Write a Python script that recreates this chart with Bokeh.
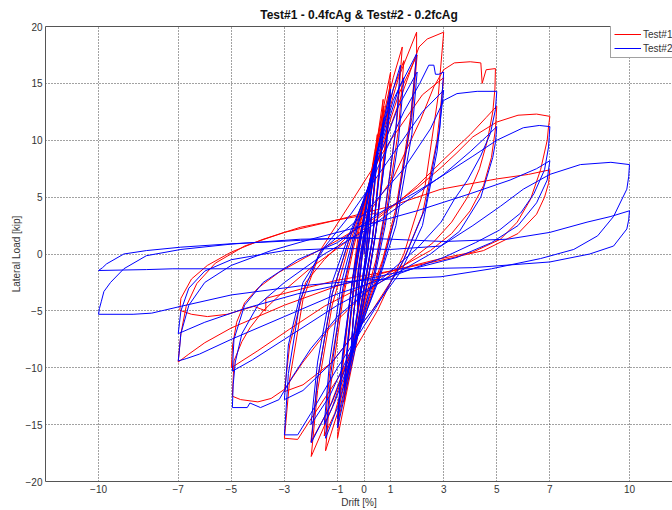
from bokeh.plotting import figure
from bokeh.models import Range1d, FixedTicker, LinearAxis
from bokeh.embed import file_html
from bokeh.resources import INLINE

title_text = "Test#1 - 0.4fcAg & Test#2 - 0.2fcAg"
x_label = "Drift [%]"
y_label = "Lateral Load [kip]"
series_names = ["Test#1", "Test#2"]
series_colors = ["#ff0000", "#0000ff"]
x_ticks = [-10, -7, -5, -3, -1, 0, 1, 3, 5, 7, 10]
y_ticks = [-20, -15, -10, -5, 0, 5, 10, 15, 20]

# ---- Test#1 (0.4 fcAg): drift [%] and lateral load [kip]
test1_drift = (
    [0, 0.12, 0.25, 0.2, 0.08, -0.05, -0.25, -0.2, -0.08, 0.1, 0.25, 0.19, 0.07, -0.1, -0.25, -0.18, -0.06]
    + [0.2, 0.5, 0.42, 0.2, 0.1, -0.15, -0.5, -0.42, -0.22, -0.12, 0.15, 0.5, 0.4, 0.18, 0.08, -0.2, -0.5, -0.4, -0.15]
    + [0.1, 0.4, 0.72, 0.62, 0.35, 0.2, -0.2, -0.75, -0.62, -0.35, -0.2, 0.2, 0.75, 0.6, 0.3, 0.15, -0.3, -0.75, -0.6, -0.3]
    + [-0.1, 0.4, 1.0, 0.85, 0.5, 0.25, -0.3, -1.0, -0.85, -0.5, -0.25, 0.3, 1.0, 0.82, 0.45, 0.2, -0.4, -1.0, -0.82, -0.45]
    + [-0.2, 0.5, 1.1, 1.44, 1.25, 0.8, 0.45, -0.3, -1.0, -1.45, -1.25, -0.8, -0.4, 0.4, 1.1, 1.5, 1.3, 0.8, 0.4, -0.4, -1.1, -1.5, -1.3, -0.8]
    + [-0.4, 0.5, 1.3, 1.98, 1.98, 1.75, 1.2, 0.7, -0.2, -1.2, -1.99, -1.75, -1.2, -0.6, 0.4, 1.3, 2.0, 1.8, 1.2, 0.6, -0.4, -1.3, -2.0, -1.75, -1.2]
    + [-0.6, 0.5, 1.5, 2.07, 2.38, 3.0, 2.8, 2.3, 1.5, 0.5, -1.0, -2.0, -2.5, -3.0, -2.8, -2.3, -1.6, -0.5, 1.0, 2.2, 3.0, 2.75, 2.2, 1.4, 0.3, -1.2, -2.3, -3.0, -2.8, -2.2]
    # 5 % cycles
    + [-1.5, 0, 1.12, 2.13, 2.63, 3.0, 3.4, 4.0, 4.4, 4.45, 4.6, 4.95]
    + [4.93, 4.85, 4.65, 4.35, 3.9, 3.3, 2.6, 1.5, 0, -1.3, -2.3, -3.0, -3.5, -4.0, -4.65, -4.96]
    + [-4.9, -4.6, -4.3, -3.8, -3.0, -2.0, -1.0, 0, 1.0, 2.0, 3.0, 4.0, 4.6, 5.0]
    + [4.95, 4.8, 4.5, 4.0, 3.3, 2.5, 1.5, 0, -1.5, -2.8, -4.0, -4.6, -5.0]
    + [-4.95, -4.8, -4.5, -4.0, -3.2]
    # 7 % cycles
    + [-2.2, -1.0, 0.5, 2.0, 2.9, 3.5, 4.1, 5.0, 5.8, 6.5, 7.0]
    + [6.95, 6.9, 6.65, 6.27, 5.77, 5.14, 4.1, 2.9, 1.0, -1.0, -3.0, -5.0, -6.0, -6.6, -7.0]
    + [-6.95, -6.9, -6.7, -6.3, -5.6, -4.5, -3.0, -1.0, 1.0, 2.9, 5.0, 6.2, 7.0]
    + [6.95, 6.8, 6.5, 5.8, 4.5, 3.0, 1.0, -1.0, -2.4, -3.7, -3.7, -4.15, -5.15, -5.9, -6.5, -6.94]
    + [-6.9, -6.5, -5.9, -5.0, -3.8, -2.4, -1.0, 0.5]
)
test1_load = (
    [0, 3, 5.5, 3.5, 0, -2.5, -5, -3, 0, 3, 5.2, 3, 0, -3, -4.8, -2.5, 0]
    + [5, 10.5, 7, 1.5, 0, -4, -9.5, -6, -1.5, 0, 4, 10, 6.5, 1, -0.5, -4.5, -9, -5.5, -0.5]
    + [2.5, 8.5, 13.6, 9, 2, -0.5, -6, -13, -8.5, -2, 0.5, 6, 13, 8, 1, -1, -7, -12.5, -7.5, -1.5]
    + [1.5, 9, 16, 11, 3, -1, -8, -16.2, -11, -3.5, 0.5, 7.5, 15, 9.5, 2, -1.5, -8.5, -15, -9.5, -2.5]
    + [2, 9.5, 15.5, 18.2, 12, 4, -0.5, -7, -14, -17.3, -11.5, -4, 0.5, 8, 14.5, 17, 11, 3, -1.5, -8, -14, -16, -10.5, -3.5]
    + [1, 9, 15.5, 19.5, 17.6, 12, 4, -0.5, -6.5, -13.5, -17.8, -12, -4.5, 0.5, 7.5, 14, 17.5, 12, 3.5, -1.5, -8, -13.5, -16.5, -11, -3.5]
    + [1, 8, 14.5, 18.2, 18.9, 19.5, 14, 6, 0, -5, -11, -14.5, -16.3, -16.2, -11, -4, 0.5, 4.5, 10, 14, 15.5, 10, 3.5, -1, -5, -9.5, -11.5, -12.1, -8, -2.5]
    + [-0.5, 3, 6.8, 11.8, 14.7, 16.2, 16.8, 16.9, 16.8, 15.0, 16.2, 16.3]
    + [14.5, 12.5, 10, 7.5, 5, 2.8, 1, -1, -3.5, -6.5, -9.5, -11.9, -12.7, -13.0, -12.8, -12.5]
    + [-9.4, -7.7, -6.5, -5.0, -3.2, -1.2, 0.5, 2.2, 4.0, 6.0, 8.3, 10.5, 12.0, 13.0]
    + [11, 8.5, 6, 3.8, 1.8, 0.3, -1, -2.8, -4.6, -6.6, -8.5, -9.4, -10]
    + [-8, -6, -4.3, -3, -1.6]
    + [-0.3, 1.2, 3.3, 5.8, 7.6, 8.9, 10.3, 11.6, 12.2, 12.3, 12.1]
    + [11.2, 10, 7.4, 4.8, 2.8, 1.3, 0.17, -0.4, -1.5, -2.8, -4.5, -6.5, -7.8, -8.8, -9.5]
    + [-8.2, -7, -4.6, -2.6, -0.8, 0.7, 1.9, 3.0, 4.2, 5.7, 6.6, 7.0, 7.4]
    + [6.2, 5.0, 3.5, 1.8, 0.3, -0.5, -1.5, -2.3, -3.1, -3.9, -5.0, -4.6, -5.3, -5.5, -5.3, -4.95]
    + [-3.9, -2.2, -1.0, 0.17, 1.3, 2.35, 3.0, 3.6]
)

# ---- Test#2 (0.2 fcAg)
test2_drift = (
    [0, 0.12, 0.25, 0.18, 0.07, -0.08, -0.25, -0.18, -0.06, 0.1, 0.25, 0.17, 0.05, -0.1, -0.25, -0.17, -0.05]
    + [0.2, 0.5, 0.4, 0.18, 0.1, -0.2, -0.5, -0.4, -0.2, -0.1, 0.2, 0.5, 0.38, 0.15, 0.05, -0.25, -0.5, -0.38, -0.15]
    + [0.1, 0.4, 0.75, 0.62, 0.32, 0.15, -0.25, -0.75, -0.62, -0.33, -0.15, 0.25, 0.75, 0.6, 0.3, 0.1, -0.3, -0.75, -0.6, -0.3]
    + [-0.1, 0.4, 1.0, 0.85, 0.45, 0.2, -0.35, -1.0, -0.85, -0.45, -0.2, 0.35, 1.0, 0.82, 0.42, 0.18, -0.4, -1.0, -0.82, -0.42]
    + [-0.15, 0.5, 1.1, 1.37, 1.2, 0.75, 0.4, -0.35, -1.0, -1.45, -1.25, -0.8, -0.4, 0.4, 1.1, 1.5, 1.3, 0.8, 0.4, -0.4, -1.1, -1.5, -1.3, -0.85]
    + [-0.4, 0.5, 1.3, 1.98, 1.75, 1.2, 0.7, -0.2, -1.2, -1.99, -1.75, -1.2, -0.6, 0.4, 1.3, 2.0, 1.8, 1.2, 0.6, -0.4, -1.3, -2.0, -1.75, -1.2]
    + [-0.6, 0.5, 1.5, 2.1, 2.44, 2.63, 2.69, 2.82, 3.0, 2.85, 2.3, 1.5, 0.5, -1.0, -2.0, -2.5, -3.0, -2.85, -2.4, -1.7, -0.5, 1.0, 2.2, 3.0, 2.75, 2.2, 1.4, 0.3, -1.2, -2.3, -3.0, -2.85, -2.3]
    # 5 % cycles
    + [-1.5, 0, 1.5, 2.5, 3.0, 3.5, 4.26, 5.0]
    + [4.95, 4.76, 4.39, 3.9, 3.4, 2.9, 2.0, 0.5, -1.0, -2.0, -2.7, -3.2, -3.9, -4.3, -4.4, -4.96]
    + [-4.93, -4.85, -4.6, -4.0, -3.0, -1.5, 0, 1.5, 3.0, 4.0, 4.6, 5.0]
    + [4.95, 4.85, 4.4, 3.6, 2.5, 1.0, -1.0, -3.0, -4.2, -4.96]
    + [-4.93, -4.9, -4.5, -3.8, -2.5]
    # 7 % cycles
    + [-1.0, 0.5, 2.0, 2.9, 4.1, 5.0, 6.0, 6.6, 7.0]
    + [6.95, 6.8, 6.4, 5.9, 5.1, 4.2, 3.0, 1.0, -1.0, -3.0, -5.0, -6.2, -6.7, -7.0]
    + [-6.95, -6.9, -6.6, -6.0, -5.0, -3.5, -2.0, 0, 2.0, 4.0, 5.5, 6.5, 7.0]
    + [6.95, 6.9, 6.5, 5.8, 4.8, 3.5, 1.5, -0.5, -2.5, -4.5, -6.0, -6.6, -7.0]
    # 10 % cycles
    + [-6.95, -6.9, -6.6, -6.0, -5.0, -3.0, -1.0, 1.0, 2.9, 4.1, 5.14, 6.0, 7.0, 8.15, 9.3, 10.0]
    + [9.97, 9.9, 9.4, 8.8, 7.9, 6.65, 4.8, 2.9, 0, -2.4, -5.0, -6.9, -8.0, -8.7, -10.0]
    + [-9.97, -9.9, -9.8, -9.55, -9.05, -8.2, -6.9, -5.0, -2.4, 0, 3.0, 5.4, 7.0, 8.4, 9.3, 10.0]
    + [9.97, 9.9, 9.4, 8.5, 7.0, 4.1, 2.0, 0, -3.0, -5.0, -7.2, -8.2, -10.0]
    + [-9.85, -9.7, -9.05, -8.2, -6.9, -5.0, -2.4, 0]
)
test2_load = (
    [0, 2.5, 5, 3, 0, -2.5, -4.5, -2.5, 0, 2.5, 4.8, 2.5, -0.5, -2.8, -4.3, -2, 0.3]
    + [4.5, 9, 6, 1, -0.5, -4.5, -9, -5.5, -1, 0.5, 4.5, 8.7, 5.5, 0.5, -1, -5, -8.7, -5, -0.5]
    + [2.5, 7.5, 12, 8, 1.5, -1, -6.5, -12, -8, -1.5, 1, 6.5, 11.6, 7.5, 1, -1.5, -7, -11.6, -7.2, -1]
    + [1.5, 8, 14.5, 9.5, 2, -1.5, -8.5, -15.3, -10, -2.5, 1, 7.5, 14, 9, 1.5, -2, -8.5, -14.5, -9, -2]
    + [1.5, 9, 14.5, 16.6, 11, 3, -1.5, -8, -13.5, -16.2, -10.5, -3, 1, 8, 13.5, 15.5, 10, 2.5, -2, -8.5, -13, -15, -9.5, -2.5]
    + [1.5, 8.5, 14.5, 17.6, 11.5, 3.5, -1, -7, -13, -16.6, -11, -3.5, 1, 7.5, 13, 16, 10.5, 2.5, -2, -8, -12.5, -15, -9.5, -2.5]
    + [1.5, 7.5, 12.5, 15, 16.6, 16.6, 15.8, 15.8, 16, 11, 4, -0.5, -4.5, -10, -14, -15.9, -15.9, -10.5, -4, 0, 3.5, 8.5, 12.5, 14.4, 9, 2.5, -1.5, -5, -9.5, -12, -12.8, -8, -2.5]
    + [0.5, 3.5, 7.5, 11, 13.5, 14.1, 14.3, 14.3]
    + [12.7, 10.6, 8.6, 6.5, 4.8, 2.8, 0.5, -2.5, -5.5, -8.3, -10.8, -12.8, -13.5, -13.1, -13.5, -13.5]
    + [-11.5, -9.5, -7.0, -4.5, -2.5, 0, 2, 4.5, 7, 9, 10.3, 11.2]
    + [9.8, 8.5, 5, 2, 0, -2, -4.5, -7.5, -9.3, -10.3]
    + [-8.8, -7.5, -4.5, -2.5, -0.5]
    + [1, 3.5, 5.5, 6.8, 8.6, 10, 11.1, 11.3, 11.2]
    + [9.4, 7.4, 5.3, 3.6, 2.1, 1.0, -0.3, -2, -3.5, -5.5, -7.5, -8.8, -9.2, -9.4]
    + [-8.3, -7, -4.5, -2.5, -1, 0.3, 1.3, 2.5, 3.8, 5.3, 6.5, 7.5, 8.2]
    + [7.4, 6.5, 4.5, 2.5, 1, -0.3, -1.5, -2.5, -3.5, -4.8, -6, -6.6, -7]
    + [-6, -5, -3, -1.5, -0.5, 0.3, 0.5, 0.4, 0.7, 2.5, 4.2, 5.7, 7, 7.86, 8.06, 7.86]
    + [6.8, 5.7, 3.3, 1.6, 0.4, -0.4, -1.3, -2, -2.3, -2.8, -3.6, -4.6, -5.2, -5.3, -5.3]
    + [-4.8, -4.2, -3.3, -2.5, -1.3, -0.15, 0.4, 0.87, 1.3, 1.4, 1.1, 1.3, 1.9, 2.8, 3.3, 3.8]
    + [3.0, 2.2, 0.7, 0, -0.7, -1.2, -1.3, -1.3, -1.3, -1.3, -1.3, -1.37, -1.45]
    + [-1.2, -0.87, 0, 0.3, 0.6, 0.9, 1.2, 1.5]
)

FONT = "Liberation Sans"

p = figure(width=672, height=510, output_backend="svg", toolbar_location=None,
           x_range=Range1d(-12, 11.62), y_range=Range1d(-20, 20),
           min_border_left=45, min_border_right=0, min_border_top=26, min_border_bottom=26,
           title=title_text, x_axis_label=x_label, y_axis_label=y_label)

p.background_fill_color = "white"
p.border_fill_color = "white"
p.outline_line_color = None

p.title.text_font = FONT
p.title.text_font_size = "12px"
p.title.text_font_style = "bold"
p.title.align = "center"
p.title.offset = 4
p.title.text_color = "#111111"

for ax in (p.xaxis[0], p.yaxis[0]):
    ax.axis_line_color = "#555555"
    ax.major_tick_in = 0
    ax.major_tick_out = 0
    ax.minor_tick_line_color = None
    ax.major_label_text_font = FONT
    ax.major_label_text_font_size = "10px"
    ax.major_label_text_color = "#333333"
    ax.axis_label_text_font = FONT
    ax.axis_label_text_font_size = "10px"
    ax.axis_label_text_font_style = "normal"
    ax.axis_label_text_color = "#333333"
    ax.major_label_standoff = 3
    ax.axis_label_standoff = 1

p.xaxis[0].ticker = FixedTicker(ticks=x_ticks)
p.yaxis[0].ticker = FixedTicker(ticks=y_ticks)

top = LinearAxis(ticker=FixedTicker(ticks=[]), axis_line_color="#555555",
                 major_tick_in=0, major_tick_out=0, minor_tick_line_color=None)
p.add_layout(top, "above")

for g in (p.xgrid[0], p.ygrid[0]):
    g.grid_line_color = "#444444"
    g.grid_line_dash = "1 2"
    g.grid_line_width = 1

p.line(test1_drift, test1_load, line_color=series_colors[0], line_width=1,
       legend_label=series_names[0])
p.line(test2_drift, test2_load, line_color=series_colors[1], line_width=1,
       legend_label=series_names[1])

lg = p.legend[0]
lg.location = (565, 423)
lg.margin = 0
lg.padding = 3
lg.spacing = 2
lg.glyph_width = 27
lg.glyph_height = 12
lg.label_height = 12
lg.label_standoff = 2
lg.label_text_font = FONT
lg.label_text_font_size = "10px"
lg.label_text_color = "#333333"
lg.border_line_color = "#444444"
lg.border_line_width = 1
lg.background_fill_color = "white"
lg.background_fill_alpha = 1

open("out.html", "w").write(file_html(p, INLINE))
